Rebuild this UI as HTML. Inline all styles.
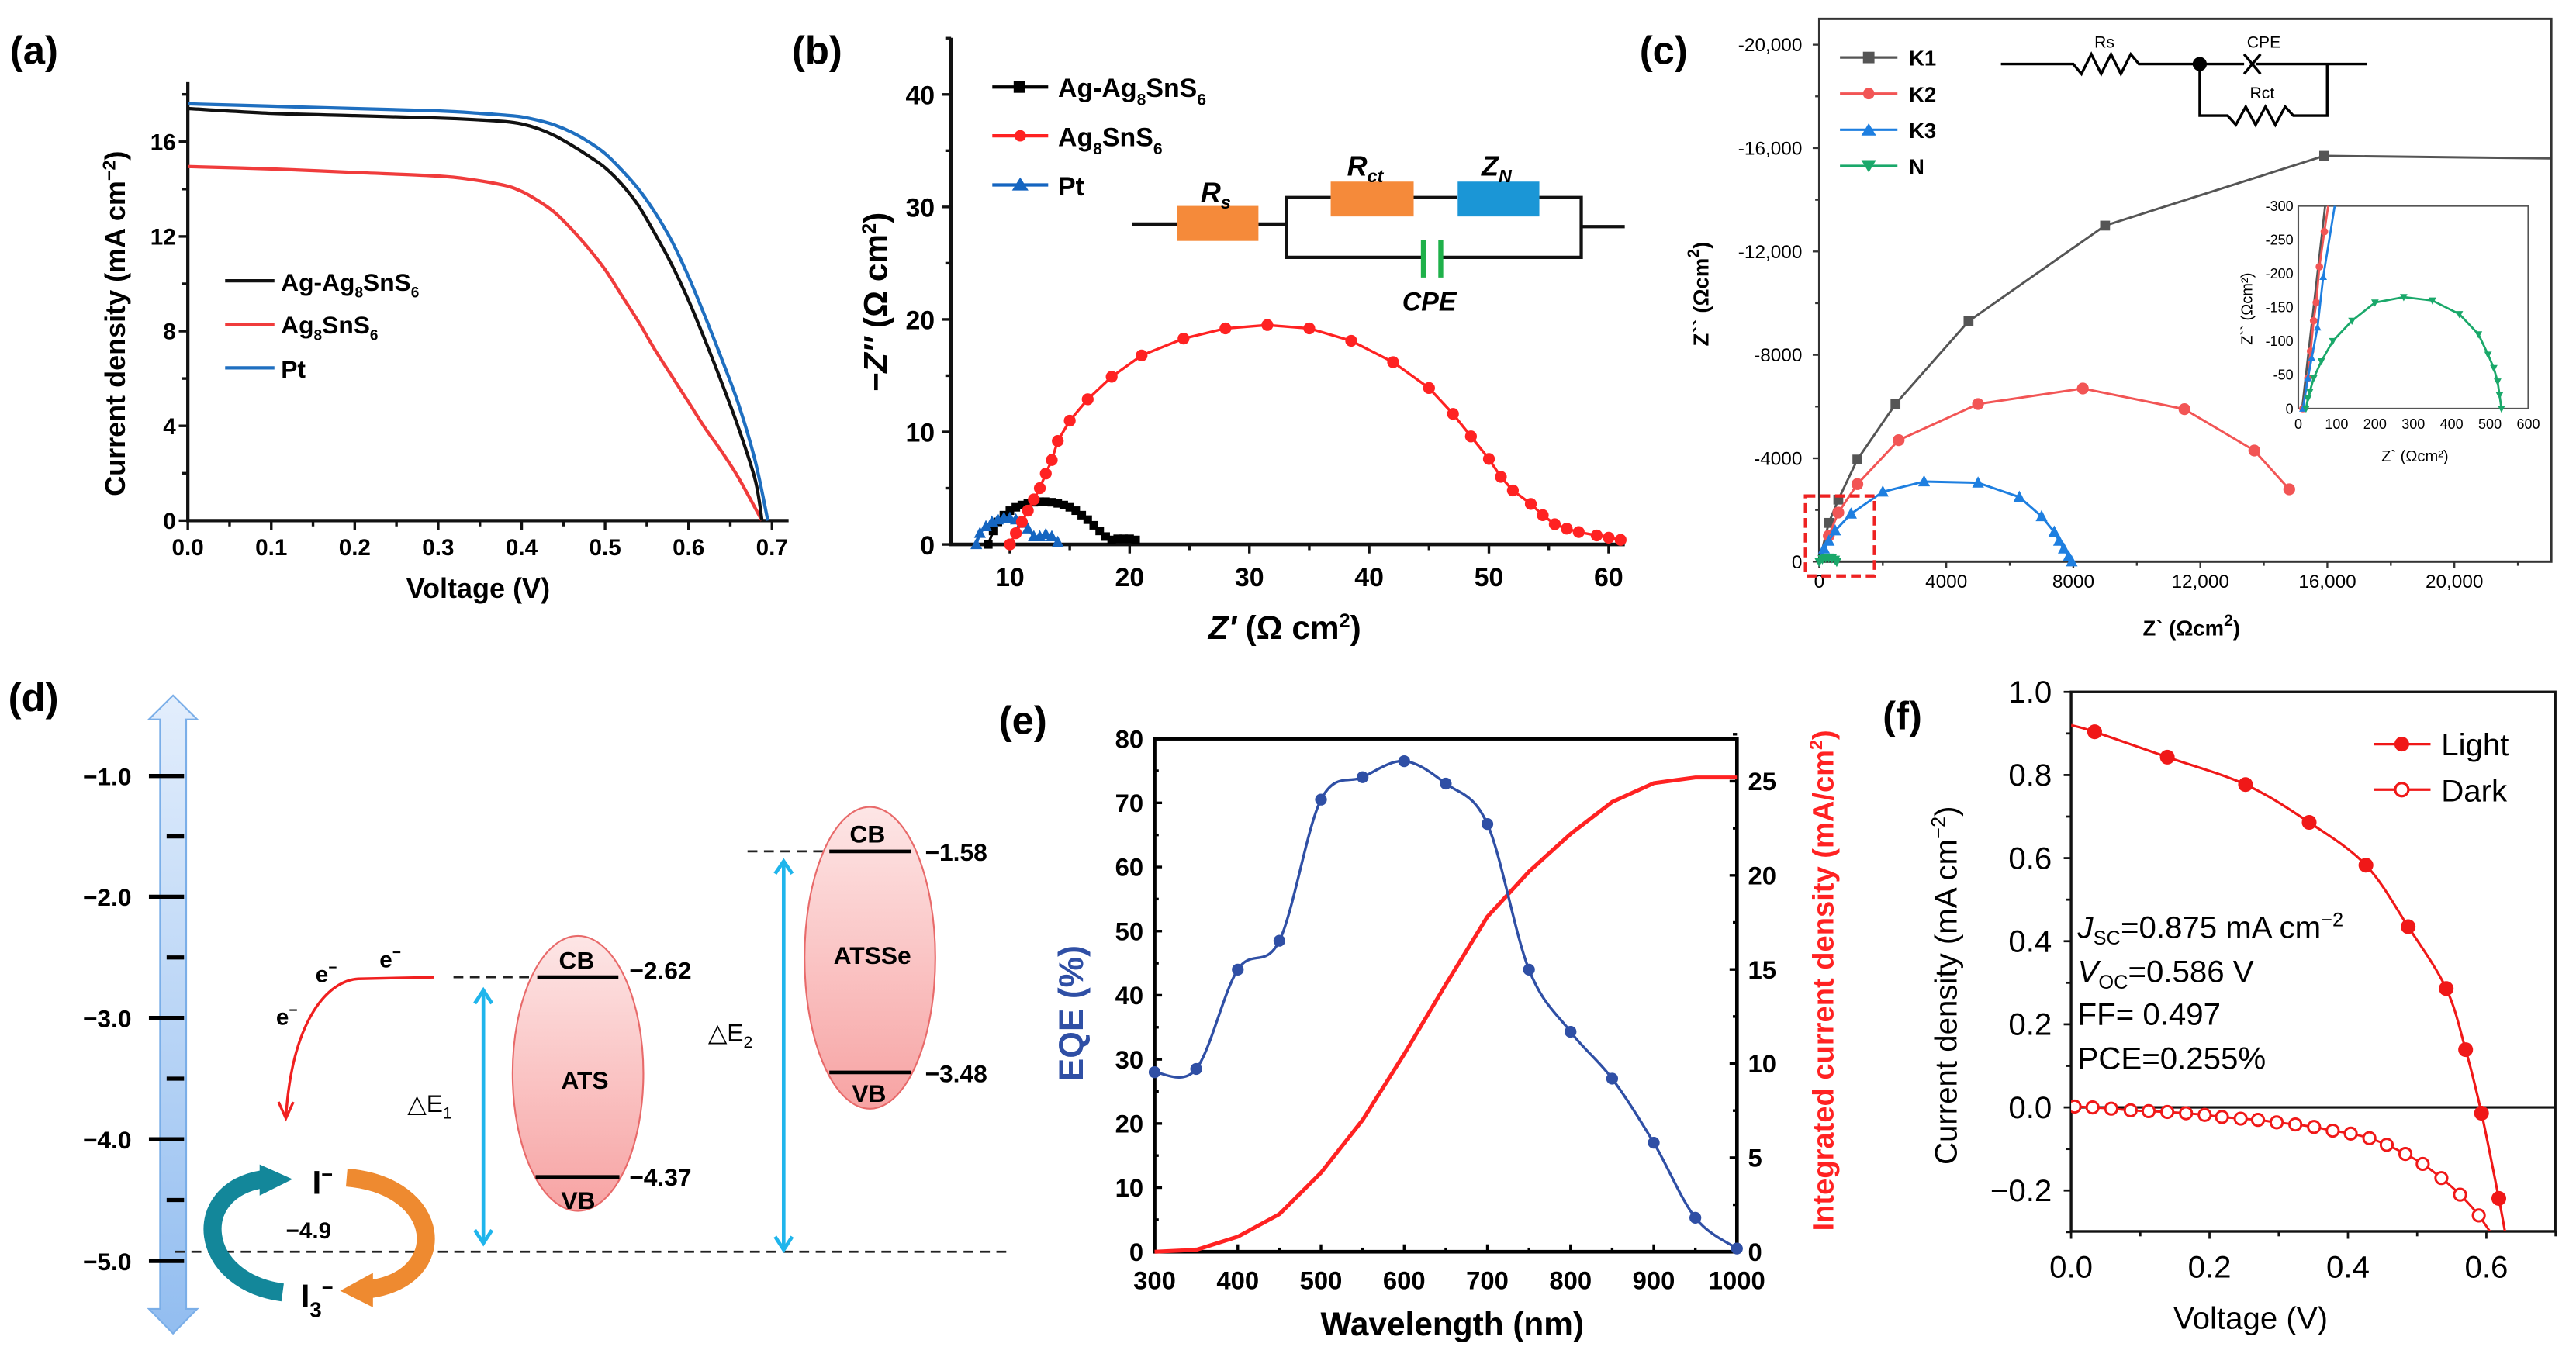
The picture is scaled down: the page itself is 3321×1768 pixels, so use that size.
<!DOCTYPE html>
<html><head><meta charset="utf-8"><title>Solar cell figure</title>
<style>
html,body{margin:0;padding:0;background:#fff;}
svg{display:block;font-family:"Liberation Sans",Arial,sans-serif;}
.b{font-weight:bold;}
</style></head>
<body>
<svg id="fig" xmlns="http://www.w3.org/2000/svg" width="3321" height="1768" viewBox="0 0 1568 834.8">
<defs>
<linearGradient id="gArrow" x1="0" y1="0" x2="0" y2="1"><stop offset="0" stop-color="#e3eefc"/><stop offset="1" stop-color="#92bdf0"/></linearGradient>
<linearGradient id="gEll" x1="0" y1="0" x2="0" y2="1"><stop offset="0" stop-color="#fde6e6"/><stop offset="1" stop-color="#f7a3a3"/></linearGradient>
</defs>
<rect x="0" y="0" width="1568" height="834.8" fill="#fff"/>

<text x="6" y="39" class="b" font-size="24">(a)</text>
<text x="482" y="39" class="b" font-size="24">(b)</text>
<text x="998" y="39" class="b" font-size="24">(c)</text>
<text x="5" y="433" class="b" font-size="24">(d)</text>
<text x="608" y="447" class="b" font-size="24">(e)</text>
<text x="1146" y="444" class="b" font-size="24">(f)</text>

<g id="pa"></g>
<g id="pb"></g>
<g id="pc"></g>
<g id="pe"></g>
<g id="pf"></g>

<text transform="translate(76,197) rotate(-90)" text-anchor="middle" class="b" font-size="17">Current density (mA cm<tspan dy="-6" font-size="11">−2</tspan><tspan dy="6">)</tspan></text>
<text x="291" y="364" text-anchor="middle" class="b" font-size="17">Voltage (V)</text>
<g>
<line x1="137" y1="171" x2="167" y2="171" stroke="#111" stroke-width="2"/>
<text x="171" y="177" class="b" font-size="15">Ag-Ag<tspan dy="4" font-size="9">8</tspan><tspan dy="-4">SnS</tspan><tspan dy="4" font-size="9">6</tspan></text>
<line x1="137" y1="197.6" x2="167" y2="197.6" stroke="#f03c3c" stroke-width="2"/>
<text x="171" y="203" class="b" font-size="15">Ag<tspan dy="4" font-size="9">8</tspan><tspan dy="-4">SnS</tspan><tspan dy="4" font-size="9">6</tspan></text>
<line x1="137" y1="224" x2="167" y2="224" stroke="#1f6fc0" stroke-width="2"/>
<text x="171" y="230" class="b" font-size="15">Pt</text>
</g>

<text transform="translate(540,184) rotate(-90)" text-anchor="middle" class="b" font-size="20"><tspan font-style="italic">−Z″</tspan> (Ω cm<tspan dy="-7" font-size="12">2</tspan><tspan dy="7">)</tspan></text>
<text x="782" y="389" text-anchor="middle" class="b" font-size="20"><tspan font-style="italic">Z′</tspan> (Ω cm<tspan dy="-7" font-size="12">2</tspan><tspan dy="7">)</tspan></text>
<g>
<line x1="604" y1="53" x2="638" y2="53" stroke="#000" stroke-width="2"/><rect x="617" y="49.5" width="7" height="7" fill="#000"/>
<text x="644" y="59" class="b" font-size="16">Ag-Ag<tspan dy="5" font-size="10">8</tspan><tspan dy="-5">SnS</tspan><tspan dy="5" font-size="10">6</tspan></text>
<line x1="604" y1="82.7" x2="638" y2="82.7" stroke="#f22" stroke-width="2"/><circle cx="621" cy="82.7" r="3.5" fill="#f22"/>
<text x="644" y="89" class="b" font-size="16">Ag<tspan dy="5" font-size="10">8</tspan><tspan dy="-5">SnS</tspan><tspan dy="5" font-size="10">6</tspan></text>
<line x1="604" y1="112.6" x2="638" y2="112.6" stroke="#1565c0" stroke-width="2"/><polygon points="621,108 626,116 616,116" fill="#1565c0"/>
<text x="644" y="119" class="b" font-size="16">Pt</text>
</g>
<g stroke="#111" stroke-width="2" fill="none">
<line x1="689" y1="136.4" x2="717" y2="136.4"/><line x1="766" y1="136.4" x2="783" y2="136.4"/>
<polyline points="810,120.3 783,120.3 783,156.7 866.4,156.7"/><polyline points="877,156.7 962.5,156.7 962.5,120.3 937,120.3"/>
<line x1="860" y1="120.3" x2="887" y2="120.3"/><line x1="962.5" y1="138" x2="989" y2="138"/>
<rect x="716.7" y="125.4" width="49.3" height="21.3" fill="#f58a3a" stroke="none"/>
<rect x="810" y="110.6" width="50.5" height="21.2" fill="#f58a3a" stroke="none"/>
<rect x="887.3" y="110.6" width="49.7" height="21.2" fill="#1b96d6" stroke="none"/>
<line x1="866.4" y1="146.4" x2="866.4" y2="169" stroke="#1fb14a" stroke-width="3"/><line x1="877" y1="146.4" x2="877" y2="169" stroke="#1fb14a" stroke-width="3"/>
</g>
<text x="740" y="123" text-anchor="middle" class="b" font-size="17" font-style="italic">R<tspan dy="4" font-size="11">s</tspan></text>
<text x="831" y="107" text-anchor="middle" class="b" font-size="17" font-style="italic">R<tspan dy="4" font-size="11">ct</tspan></text>
<text x="911" y="107" text-anchor="middle" class="b" font-size="17" font-style="italic">Z<tspan dy="4" font-size="11">N</tspan></text>
<text x="870" y="189" text-anchor="middle" class="b" font-size="16" font-style="italic">CPE</text>

<text transform="translate(1040,179) rotate(-90)" text-anchor="middle" class="b" font-size="13">Z`` (Ωcm<tspan dy="-6" font-size="10">2</tspan><tspan dy="6">)</tspan></text>
<text x="1334" y="387" text-anchor="middle" class="b" font-size="13">Z` (Ωcm<tspan dy="-6" font-size="10">2</tspan><tspan dy="6">)</tspan></text>
<g>
<line x1="1120" y1="35" x2="1155" y2="35" stroke="#555" stroke-width="1.5"/><rect x="1134" y="31.5" width="7" height="7" fill="#555"/>
<text x="1162" y="40" class="b" font-size="13">K1</text>
<line x1="1120" y1="57" x2="1155" y2="57" stroke="#f25555" stroke-width="1.5"/><circle cx="1137.5" cy="57" r="3.5" fill="#f25555"/>
<text x="1162" y="62" class="b" font-size="13">K2</text>
<line x1="1120" y1="79" x2="1155" y2="79" stroke="#1e7fe0" stroke-width="1.5"/><polygon points="1137.5,75 1142,82.5 1133,82.5" fill="#1e7fe0"/>
<text x="1162" y="84" class="b" font-size="13">K3</text>
<line x1="1120" y1="101" x2="1155" y2="101" stroke="#1aa86a" stroke-width="1.5"/><polygon points="1137.5,105 1142,97.5 1133,97.5" fill="#1aa86a"/>
<text x="1162" y="106" class="b" font-size="13">N</text>
</g>
<g stroke="#000" stroke-width="1.6" fill="none">
<polyline points="1218,39 1262,39 1267,45 1273,33 1279,45 1285,33 1291,45 1297,33 1302,39 1366,39"/>
<path d="M1366,33 L1371,39 L1366,45 M1376,33 L1371,39 L1376,45"/>
<line x1="1373" y1="39" x2="1441" y2="39"/>
<polyline points="1339,39 1339,70.4 1356,70.4 1361,76 1367,65 1373,76 1379,65 1385,76 1391,65 1396,70.4 1416.6,70.4 1416.6,39"/>
<circle cx="1339" cy="39" r="3.5" fill="#000"/>
</g>
<text x="1281" y="29" text-anchor="middle" font-size="10">Rs</text>
<text x="1378" y="29" text-anchor="middle" font-size="10">CPE</text>
<text x="1377" y="60" text-anchor="middle" font-size="10">Rct</text>

<g id="pd">
<polygon points="105.3,423.5 120,438 113.3,438 113.3,797 120,797 105.3,812 90.6,797 97.4,797 97.4,438 90.6,438" fill="url(#gArrow)" stroke="#7aaee8" stroke-width="1"/>
<g stroke="#000" stroke-width="2.5">
<line x1="90.6" y1="472.5" x2="112" y2="472.5"/><line x1="90.6" y1="546" x2="112" y2="546"/><line x1="90.6" y1="619.8" x2="112" y2="619.8"/><line x1="90.6" y1="693.7" x2="112" y2="693.7"/><line x1="90.6" y1="767.8" x2="112" y2="767.8"/>
<line x1="101.4" y1="509.3" x2="112" y2="509.3"/><line x1="101.4" y1="583" x2="112" y2="583"/><line x1="101.4" y1="656.8" x2="112" y2="656.8"/><line x1="101.4" y1="730.7" x2="112" y2="730.7"/>
</g>
<g class="b" font-size="15" text-anchor="end">
<text x="80" y="478">−1.0</text><text x="80" y="551.5">−2.0</text><text x="80" y="625.3">−3.0</text><text x="80" y="699.2">−4.0</text><text x="80" y="773.3">−5.0</text>
</g>
<line x1="106.5" y1="762.2" x2="616" y2="762.2" stroke="#222" stroke-width="1.3" stroke-dasharray="6,4"/>
<line x1="276" y1="595" x2="326" y2="595" stroke="#222" stroke-width="1.3" stroke-dasharray="6,4"/>
<line x1="455" y1="518.4" x2="505" y2="518.4" stroke="#222" stroke-width="1.3" stroke-dasharray="6,4"/>
<ellipse cx="351.8" cy="653.6" rx="39.8" ry="83.7" fill="url(#gEll)" stroke="#e86a6a" stroke-width="1"/>
<ellipse cx="529.5" cy="583.2" rx="39.8" ry="91.9" fill="url(#gEll)" stroke="#e86a6a" stroke-width="1"/>
<line x1="327" y1="595" x2="376.4" y2="595" stroke="#000" stroke-width="2.2"/>
<line x1="326" y1="716.6" x2="377" y2="716.6" stroke="#000" stroke-width="2.2"/>
<line x1="504.8" y1="518.4" x2="554.5" y2="518.4" stroke="#000" stroke-width="2.2"/>
<line x1="504.8" y1="653" x2="554.5" y2="653" stroke="#000" stroke-width="2.2"/>
<g class="b" font-size="15" text-anchor="middle">
<text x="351" y="590">CB</text><text x="356" y="663">ATS</text><text x="352" y="736">VB</text>
<text x="528" y="513">CB</text><text x="531" y="587">ATSSe</text><text x="529" y="671">VB</text>
</g>
<g class="b" font-size="15">
<text x="383" y="596">−2.62</text><text x="383" y="722">−4.37</text><text x="563" y="524">−1.58</text><text x="563" y="659">−3.48</text>
</g>
<g stroke="#1fb5ec" stroke-width="2.2" fill="none">
<line x1="294.2" y1="605" x2="294.2" y2="755"/><polyline points="289,611 294.2,603 299.4,611"/><polyline points="289,749 294.2,757 299.4,749"/>
<line x1="477" y1="526" x2="477" y2="759"/><polyline points="471.8,532 477,524.4 482.2,532"/><polyline points="471.8,753 477,761 482.2,753"/>
</g>
<text x="248" y="677" font-size="15">△E<tspan dy="4" font-size="10">1</tspan></text>
<text x="431" y="634" font-size="15">△E<tspan dy="4" font-size="10">2</tspan></text>
<path d="M264.3,595 L218,596 C200,597 178,620 174,680" stroke="#f02020" stroke-width="1.6" fill="none"/>
<polyline points="169.5,671 174,681 178.5,671" stroke="#f02020" stroke-width="1.6" fill="none"/>
<g class="b" font-size="14">
<text x="231" y="589">e<tspan dy="-6" font-size="9">−</tspan></text>
<text x="192" y="598">e<tspan dy="-6" font-size="9">−</tspan></text>
<text x="168" y="624">e<tspan dy="-6" font-size="9">−</tspan></text>
</g>
<path d="M172,787 C120,780 115,725 160,718" stroke="#13879a" stroke-width="11" fill="none"/>
<polygon points="158,709 178,718 158,728" fill="#13879a"/>
<path d="M211,717 C270,722 275,778 225,785" stroke="#ee8a30" stroke-width="11" fill="none"/>
<polygon points="227,775 207,786 227,796" fill="#ee8a30"/>
<text x="190" y="727" class="b" font-size="20">I<tspan dy="-8" font-size="12">−</tspan></text>
<text x="183" y="796" class="b" font-size="20">I<tspan dy="6" font-size="13">3</tspan><tspan dy="-14" font-size="12">−</tspan></text>
<text x="174" y="754" class="b" font-size="14">−4.9</text>
</g>

<text transform="translate(659,617) rotate(-90)" text-anchor="middle" class="b" font-size="21" fill="#2f4fa5">EQE (%)</text>
<text transform="translate(1116,597) rotate(-90)" text-anchor="middle" class="b" font-size="18" fill="#f22">Integrated current density (mA/cm<tspan dy="-7" font-size="11">2</tspan><tspan dy="7">)</tspan></text>
<text x="884" y="813" text-anchor="middle" class="b" font-size="20">Wavelength (nm)</text>

<text transform="translate(1191,600) rotate(-90)" text-anchor="middle" font-size="19">Current density (mA cm<tspan dy="-7" font-size="12">−2</tspan><tspan dy="7">)</tspan></text>
<text x="1370" y="809" text-anchor="middle" font-size="19">Voltage (V)</text>
<g>
<line x1="1444.9" y1="453.1" x2="1479.5" y2="453.1" stroke="#f01818" stroke-width="1.5"/><circle cx="1462" cy="453.1" r="4.5" fill="#f01818"/>
<text x="1486" y="460" font-size="19">Light</text>
<line x1="1444.9" y1="480.8" x2="1479.5" y2="480.8" stroke="#f01818" stroke-width="1.5"/><circle cx="1462" cy="480.8" r="4" fill="#fff" stroke="#f01818" stroke-width="1.5"/>
<text x="1486" y="488" font-size="19">Dark</text>
</g>
<g font-size="19">
<text x="1264.7" y="571"><tspan font-style="italic">J</tspan><tspan dy="4" font-size="12">SC</tspan><tspan dy="-4">=0.875 mA cm</tspan><tspan dy="-7" font-size="12">−2</tspan></text>
<text x="1264.7" y="598"><tspan font-style="italic">V</tspan><tspan dy="4" font-size="12">OC</tspan><tspan dy="-4">=0.586 V</tspan></text>
<text x="1264.7" y="624">FF= 0.497</text>
<text x="1264.7" y="651">PCE=0.255%</text>
</g>
</svg>

<script>
// Panel a
const aBlackV = [0,0.1,0.2,0.3,0.35,0.38,0.4,0.42,0.44,0.46,0.48,0.5,0.52,0.54,0.56,0.58,0.6,0.62,0.64,0.66,0.68,0.688];
const aBlackJ = [17.4,17.2,17.1,17.0,16.92,16.85,16.75,16.55,16.25,15.85,15.4,14.9,14.2,13.3,12.1,10.8,9.3,7.6,5.8,3.9,1.7,0];
const aRedV = [0,0.1,0.2,0.3,0.34,0.38,0.4,0.42,0.44,0.46,0.48,0.5,0.52,0.54,0.56,0.58,0.6,0.62,0.64,0.66,0.688];
const aRedJ = [14.95,14.85,14.7,14.55,14.4,14.15,13.9,13.5,13.0,12.3,11.5,10.6,9.5,8.4,7.2,6.1,5.0,3.9,2.9,1.8,0];
const aBlueV = [0,0.1,0.2,0.3,0.35,0.38,0.4,0.42,0.44,0.46,0.48,0.5,0.52,0.54,0.56,0.58,0.6,0.62,0.64,0.66,0.68,0.695];
const aBlueJ = [17.6,17.5,17.4,17.3,17.2,17.12,17.05,16.9,16.7,16.4,16.0,15.5,14.8,14.0,13.0,11.8,10.3,8.6,6.8,4.9,2.5,0];
const aXTicks = ["0.0","0.1","0.2","0.3","0.4","0.5","0.6","0.7"];
const aYTicks = ["0","4","8","12","16"];
// Panel b
const bRedZ = [10,10.5,11,11.5,12,12.5,13,13.5,14,15,16.5,18.5,21,24.5,28,31.5,35,38.5,42,45,47,48.5,50,51,52,53.5,54.5,55.5,56.5,57.5,59,60,61];
const bRedZi = [0,1,2,3,4,5,6.3,7.5,9.2,11,12.9,14.9,16.8,18.3,19.2,19.5,19.2,18.1,16.2,13.9,11.6,9.6,7.6,6,4.8,3.6,2.6,1.8,1.4,1.1,0.8,0.6,0.4];
const bBlackZ = [8.2,8.6,9,9.5,10,10.5,11,11.5,12,12.5,13,13.5,14,14.5,15,15.5,16,16.5,17,17.5,18,18.5,19,19.5,20,20.5];
const bBlackZi = [0,1.2,2,2.6,3,3.3,3.5,3.65,3.75,3.8,3.8,3.75,3.65,3.5,3.3,3,2.6,2.2,1.7,1.2,0.7,0.4,0.5,0.5,0.5,0.4];
const bBlueZ = [7.2,7.5,8,8.5,9,9.5,10,10.5,11,11.5,12,12.5,13,13.5,14];
const bBlueZi = [0,1,1.6,2,2.2,2.35,2.35,2.2,1.9,1.4,0.7,0.7,0.9,0.7,0.2];
const bXTicks = ["10","20","30","40","50","60"];
const bYTicks = ["0","10","20","30","40"];
// Panel c
const cK1Z = [0,300,600,1200,2400,4700,9000,15900,23000];
const cK1Zi = [0,-1500,-2400,-3950,-6100,-9300,-13000,-15700,-15600];
const cK2Z = [0,300,600,1200,2500,5000,8300,11500,13700,14800];
const cK2Zi = [0,-1000,-1900,-3000,-4700,-6100,-6700,-5900,-4300,-2800];
const cK3Z = [0,150,300,500,1000,2000,3300,5000,6300,7000,7400,7550,7700,7850,7950];
const cK3Zi = [0,-500,-800,-1200,-1850,-2700,-3100,-3050,-2500,-1750,-1150,-800,-500,-200,0];
const cNZ = [0,100,200,300,400,500,550];
const cNZi = [0,-100,-150,-160,-140,-80,0];
const cXTickVals = [0,4000,8000,12000,16000,20000];
const cXTicks = ["0","4000","8000","12,000","16,000","20,000"];
const cYTickVals = [0,-4000,-8000,-12000,-16000,-20000];
const cYTicks = ["0","-4000","-8000","-12,000","-16,000","-20,000"];
const ciNZ = [20,25,30,40,60,90,140,200,275,350,420,470,495,510,520,525,530];
const ciNZi = [0,-15,-25,-45,-70,-100,-130,-157,-165,-160,-140,-110,-80,-60,-40,-20,0];
const ciK2Z = [12,25,32,40,47,55,68,78];
const ciK2Zi = [0,-45,-85,-130,-157,-210,-262,-300];
const ciK3Z = [12,25,35,50,65,95];
const ciK3Zi = [0,-45,-75,-120,-195,-300];
const ciK1Z = [10,70];
const ciK1Zi = [0,-300];
const ciXTicks = ["0","100","200","300","400","500","600"];
const ciYTicks = ["0","-50","-100","-150","-200","-250","-300"];
// Panel e
const eWl = [300,350,400,450,500,550,600,650,700,750,800,850,900,950,1000];
const eEQE = [28,28.5,44,48.5,70.5,74,76.5,73,66.7,44,34.3,27,17,5.3,0.5];
const eJint = [0,0.1,0.8,2,4.2,7,10.5,14.2,17.8,20.2,22.2,23.9,24.9,25.2,25.2];
const eXTicks = ["300","400","500","600","700","800","900","1000"];
const eYTicks = ["0","10","20","30","40","50","60","70","80"];
const eRTicks = ["0","5","10","15","20","25"];
// Panel f
const fLightV = [0.034,0.139,0.252,0.344,0.426,0.487,0.542,0.570,0.593,0.618];
const fLightJ = [0.904,0.843,0.777,0.686,0.583,0.435,0.286,0.139,-0.014,-0.219];
const fLightFitV = [0,0.034,0.139,0.252,0.344,0.426,0.487,0.542,0.570,0.593,0.618,0.627];
const fLightFitJ = [0.92,0.904,0.843,0.777,0.686,0.583,0.435,0.286,0.139,-0.014,-0.219,-0.3];
const fDarkV = [0.005,0.031,0.058,0.086,0.112,0.139,0.166,0.193,0.218,0.245,0.27,0.297,0.324,0.351,0.378,0.404,0.431,0.456,0.483,0.508,0.535,0.562,0.589];
const fDarkJ = [0.002,0,-0.003,-0.007,-0.009,-0.011,-0.014,-0.018,-0.023,-0.027,-0.03,-0.036,-0.041,-0.047,-0.056,-0.063,-0.074,-0.09,-0.112,-0.136,-0.17,-0.21,-0.26];
const fXTicks = ["0.0","0.2","0.4","0.6"];
const fYTicks = ["−0.2","0.0","0.2","0.4","0.6","0.8","1.0"];

const NS = "http://www.w3.org/2000/svg";
function el(tag, attrs, parent){
  const e = document.createElementNS(NS, tag);
  for (const k in attrs) e.setAttribute(k, attrs[k]);
  parent.appendChild(e);
  return e;
}
function smooth(pts){
  let d = "M" + pts[0][0].toFixed(2) + "," + pts[0][1].toFixed(2);
  for (let i = 0; i < pts.length - 1; i++){
    const p0 = pts[i-1] || pts[i], p1 = pts[i], p2 = pts[i+1], p3 = pts[i+2] || pts[i+1];
    const c1x = p1[0] + (p2[0]-p0[0])/6, c1y = p1[1] + (p2[1]-p0[1])/6;
    const c2x = p2[0] - (p3[0]-p1[0])/6, c2y = p2[1] - (p3[1]-p1[1])/6;
    d += " C" + c1x.toFixed(2)+","+c1y.toFixed(2)+" "+c2x.toFixed(2)+","+c2y.toFixed(2)+" "+p2[0].toFixed(2)+","+p2[1].toFixed(2);
  }
  return d;
}
function poly(pts){ return pts.map(p=>p[0].toFixed(2)+","+p[1].toFixed(2)).join(" "); }
function zip(xs, ys, fx, fy){ return xs.map((x,i)=>[fx(x), fy(ys[i])]); }
function marker(shape, x, y, s, fill, stroke, parent){
  if (shape === "circle") return el("circle", {cx:x, cy:y, r:s, fill:fill, stroke:stroke||"none", "stroke-width":1.3}, parent);
  if (shape === "square") return el("rect", {x:x-s, y:y-s, width:2*s, height:2*s, fill:fill}, parent);
  if (shape === "tri") return el("polygon", {points:(x)+","+(y-s*1.1)+" "+(x+s)+","+(y+s*0.8)+" "+(x-s)+","+(y+s*0.8), fill:fill}, parent);
  return el("polygon", {points:(x)+","+(y+s*1.1)+" "+(x+s)+","+(y-s*0.8)+" "+(x-s)+","+(y-s*0.8), fill:fill}, parent);
}

// Panel a
const pa = document.getElementById("pa");
const xa = v => 114.3 + v*508;
const ya = j => 317 - j*14.42;
{
  const ax = el("path", {d:"M114.3,50 L114.3,317 L480,317", stroke:"#111", "stroke-width":2, fill:"none"}, pa);
  
  
  for (let k = 0; k <= 14; k++){
    const x = xa(k*0.05);
    const t = el("line", {x1:x, y1:317, x2:x, y2:317+(k%2?3.5:5.5), stroke:"#111", "stroke-width":1.6}, pa);
    
    
  }
  aXTicks.forEach(lab=>{
    const t = el("text", {x:xa(parseFloat(lab)), y:338, "text-anchor":"middle", "font-size":14, "font-weight":"bold"}, pa);
    t.textContent = lab;
    
    
  });
  for (let k = 0; k <= 9; k++){
    const y = ya(k*2);
    const t = el("line", {x1:114.3-(k%2?3.5:5.5), y1:y, x2:114.3, y2:y, stroke:"#111", "stroke-width":1.6}, pa);
    
    
  }
  aYTicks.forEach(lab=>{
    const t = el("text", {x:107, y:ya(parseFloat(lab))+5, "text-anchor":"end", "font-size":14, "font-weight":"bold"}, pa);
    t.textContent = lab;
    
    
  });
  const s1 = el("path", {d:smooth(zip(aRedV,aRedJ,xa,ya)), stroke:"#f03c3c", "stroke-width":2, fill:"none"}, pa);
  
  
  const s2 = el("path", {d:smooth(zip(aBlackV,aBlackJ,xa,ya)), stroke:"#111", "stroke-width":2, fill:"none"}, pa);
  
  
  const s3 = el("path", {d:smooth(zip(aBlueV,aBlueJ,xa,ya)), stroke:"#1f6fc0", "stroke-width":2, fill:"none"}, pa);
  
  
}

// Panel b
const pb = document.getElementById("pb");
const xb = z => 541.8 + z*7.29;
const yb = v => 331.5 - v*6.85;
{
  const ax = el("path", {d:"M578.9,23 L578.9,331.5 L989,331.5", stroke:"#111", "stroke-width":2.2, fill:"none"}, pb);
  
  
  for (let z = 10; z <= 60; z += 5){
    const t = el("line", {x1:xb(z), y1:331.5, x2:xb(z), y2:331.5+(z%10?3.5:5.5), stroke:"#111", "stroke-width":1.6}, pb);
    
    
  }
  bXTicks.forEach(lab=>{
    const t = el("text", {x:xb(parseFloat(lab)), y:357, "text-anchor":"middle", "font-size":16, "font-weight":"bold"}, pb);
    t.textContent = lab;
    
    
  });
  for (let v = 0; v <= 45; v += 5){
    const t = el("line", {x1:578.9-(v%10?3.5:5.5), y1:yb(v), x2:578.9, y2:yb(v), stroke:"#111", "stroke-width":1.6}, pb);
    
    
  }
  bYTicks.forEach(lab=>{
    const t = el("text", {x:569, y:yb(parseFloat(lab))+6, "text-anchor":"end", "font-size":16, "font-weight":"bold"}, pb);
    t.textContent = lab;
    
    
  });
  const series = [
    [bBlackZ,bBlackZi,"#000","square",2.6,'b-series-ag-ag8sns6'],
    [bBlueZ,bBlueZi,"#1565c0","tri",3.6,'b-series-pt'],
    [bRedZ,bRedZi,"#f22","circle",3.6,'b-series-ag8sns6']
  ];
  series.forEach(s=>{
    const g = el("g", {}, pb);
    
    
    el("polyline", {points:poly(zip(s[0],s[1],xb,yb)), stroke:s[2], "stroke-width":1.6, fill:"none"}, g);
    s[0].forEach((z,i)=>{
      const m = marker(s[3], xb(z), yb(s[1][i]), s[4], s[2], null, g);
      
      
    });
  });
}

// Panel c
const pc = document.getElementById("pc");
const xc = z => 1107.4 + z*0.01933;
const yc = v => 342 + v*0.01574;
{
  const box = el("rect", {x:1107.4, y:11.5, width:445.6, height:330.5, fill:"none", stroke:"#333", "stroke-width":1.4}, pc);
  
  
  for (let z = 0; z <= 22000; z += 2000){
    const t = el("line", {x1:xc(z), y1:342, x2:xc(z), y2:342+(z%4000?2.5:4), stroke:"#333", "stroke-width":1.1}, pc);
    
    
  }
  cXTickVals.forEach((v,i)=>{
    const t = el("text", {x:xc(v), y:358, "text-anchor":"middle", "font-size":11.5}, pc);
    t.textContent = cXTicks[i];
    
    
  });
  for (let v = 0; v >= -20000; v -= 2000){
    const t = el("line", {x1:1107.4-(v%4000?2.5:4), y1:yc(v), x2:1107.4, y2:yc(v), stroke:"#333", "stroke-width":1.1}, pc);
    
    
  }
  cYTickVals.forEach((v,i)=>{
    const t = el("text", {x:1097, y:yc(v)+4, "text-anchor":"end", "font-size":11.5}, pc);
    t.textContent = cYTicks[i];
    
    
  });
  const series = [
    [cK1Z,cK1Zi,"#555","square",3,'c-series-k1',1,7],
    [cK2Z,cK2Zi,"#f25555","circle",3.6,'c-series-k2',1,9],
    [cK3Z,cK3Zi,"#1e7fe0","tri",3.6,'c-series-k3',1,14],
    [cNZ,cNZi,"#1aa86a","itri",3,'c-series-n',0,6]
  ];
  series.forEach(s=>{
    const g = el("g", {}, pc);
    
    
    el("polyline", {points:poly(zip(s[0],s[1],xc,yc)), stroke:s[2], "stroke-width":1.4, fill:"none"}, g);
    s[0].forEach((z,i)=>{
      if (i < s[6] || i > s[7]) return;
      const m = marker(s[3], xc(z), yc(s[1][i]), s[4], s[2], null, g);
      
      
    });
  });
  const zoomBox = el("rect", {x:1099, y:302, width:42, height:48.7, fill:"none", stroke:"#ee2222", "stroke-width":2, "stroke-dasharray":"6,3"}, pc);
  
  

  const xi = z => 1399 + z*(140/600);
  const yi = v => 248.8 + v*(123.4/300);
  const ig = el("g", {}, pc);
  
  
  el("rect", {x:1399, y:125.4, width:140, height:123.4, fill:"#fff", stroke:"#555", "stroke-width":1}, ig);
  ciXTicks.forEach(lab=>{
    const t = el("text", {x:xi(parseFloat(lab)), y:261, "text-anchor":"middle", "font-size":8.5}, ig);
    t.textContent = lab;
    
    
  });
  ciYTicks.forEach(lab=>{
    const t = el("text", {x:1396, y:yi(parseFloat(lab))+3, "text-anchor":"end", "font-size":8.5}, ig);
    t.textContent = lab;
    
    
  });
  const ix = el("text", {x:1470, y:281, "text-anchor":"middle", "font-size":9.5}, ig);
  ix.textContent = "Z` (Ωcm²)";
  
  
  const iy = el("text", {transform:"translate(1371,188) rotate(-90)", "text-anchor":"middle", "font-size":9.5}, ig);
  iy.textContent = "Z`` (Ωcm²)";
  
  
  const iseries = [
    [ciK1Z,ciK1Zi,"#555",null,'c-inset-k1'],
    [ciK2Z,ciK2Zi,"#f25555","circle",'c-inset-k2'],
    [ciK3Z,ciK3Zi,"#1e7fe0","tri",'c-inset-k3'],
    [ciNZ,ciNZi,"#1aa86a","itri",'c-inset-n']
  ];
  iseries.forEach(s=>{
    const g = el("g", {}, ig);
    
    
    el("polyline", {points:poly(zip(s[0],s[1],xi,yi)), stroke:s[2], "stroke-width":1.3, fill:"none"}, g);
    if (!s[3]) return;
    s[0].forEach((z,i)=>{
      if (s[1][i] < -295) return;
      const m = marker(s[3], xi(z), yi(s[1][i]), 2.3, s[2], null, g);
      
      
    });
  });
}

// Panel e
const pe = document.getElementById("pe");
const xe = w => 702.8 + (w-300)*0.5064;
const yeL = e => 762.2 - e*3.905;
const yeR = j => 762.2 - j*11.46;
{
  const box = el("rect", {x:702.8, y:449.8, width:354.5, height:312.4, fill:"none", stroke:"#000", "stroke-width":2.2}, pe);
  
  
  for (let w = 300; w <= 1000; w += 50){
    const t = el("line", {x1:xe(w), y1:762.2, x2:xe(w), y2:762.2-(w%100?2.5:4.5), stroke:"#000", "stroke-width":1.6}, pe);
    
    
  }
  eXTicks.forEach(lab=>{
    const t = el("text", {x:xe(parseFloat(lab)), y:785, "text-anchor":"middle", "font-size":15.5, "font-weight":"bold"}, pe);
    t.textContent = lab;
    
    
  });
  for (let e = 0; e <= 80; e += 5){
    const t = el("line", {x1:702.8, y1:yeL(e), x2:702.8+(e%10?2.5:4.5), y2:yeL(e), stroke:"#000", "stroke-width":1.6}, pe);
    
    
  }
  eYTicks.forEach(lab=>{
    const t = el("text", {x:696, y:yeL(parseFloat(lab))+5.5, "text-anchor":"end", "font-size":15.5, "font-weight":"bold"}, pe);
    t.textContent = lab;
    
    
  });
  for (let j = 0; j <= 27.5; j += 2.5){
    const t = el("line", {x1:1057.3-((j%5)?2.5:4.5), y1:yeR(j), x2:1057.3, y2:yeR(j), stroke:"#000", "stroke-width":1.6}, pe);
    
    
  }
  eRTicks.forEach(lab=>{
    const t = el("text", {x:1064, y:yeR(parseFloat(lab))+5.5, "text-anchor":"start", "font-size":15.5, "font-weight":"bold"}, pe);
    t.textContent = lab;
    
    
  });
  const red = el("polyline", {points:poly(zip(eWl,eJint,xe,yeR)), stroke:"#f22", "stroke-width":2.4, fill:"none"}, pe);
  
  
  const g = el("g", {}, pe);
  
  
  el("path", {d:smooth(zip(eWl,eEQE,xe,yeL)), stroke:"#2f4fa5", "stroke-width":1.6, fill:"none"}, g);
  eWl.forEach((w,i)=>{
    const m = el("circle", {cx:xe(w), cy:yeL(eEQE[i]), r:3.6, fill:"#2f4fa5"}, g);
    
    
  });
}

// Panel f
const pf = document.getElementById("pf");
const xf = v => 1260.7 + v*421.3;
const yf = j => 674.3 - j*253;
{
  const box = el("rect", {x:1260.7, y:421.3, width:294.7, height:328.5, fill:"none", stroke:"#111", "stroke-width":1.6}, pf);
  
  
  const zl = el("line", {x1:1260.7, y1:yf(0), x2:1555.4, y2:yf(0), stroke:"#111", "stroke-width":1.5}, pf);
  
  
  for (let k = 0; k <= 7; k++){
    const x = xf(k*0.1);
    const t = el("line", {x1:x, y1:749.8, x2:x, y2:749.8+(k%2?3:4.5), stroke:"#111", "stroke-width":1.3}, pf);
    
    
  }
  fXTicks.forEach(lab=>{
    const t = el("text", {x:xf(parseFloat(lab)), y:778, "text-anchor":"middle", "font-size":19}, pf);
    t.textContent = lab;
    
    
  });
  for (let k = -3; k <= 10; k++){
    const y = yf(k*0.1);
    const t = el("line", {x1:1260.7-(k%2?3:4.5), y1:y, x2:1260.7, y2:y, stroke:"#111", "stroke-width":1.3}, pf);
    
    
  }
  fYTicks.forEach(lab=>{
    const t = el("text", {x:1249, y:yf(parseFloat(lab.replace("−","-")))+6.5, "text-anchor":"end", "font-size":19}, pf);
    t.textContent = lab;
    
    
  });
  const clip = el("clipPath", {id:"fclip"}, pf);
  el("rect", {x:1260.7, y:421.3, width:294.7, height:328.5}, clip);
  const lg = el("g", {"clip-path":"url(#fclip)"}, pf);
  
  
  el("path", {d:smooth(zip(fLightFitV,fLightFitJ,xf,yf)), stroke:"#f01818", "stroke-width":1.5, fill:"none"}, lg);
  fLightV.forEach((v,i)=>{
    const m = el("circle", {cx:xf(v), cy:yf(fLightJ[i]), r:4.5, fill:"#f01818"}, lg);
    
    
  });
  const dg = el("g", {"clip-path":"url(#fclip)"}, pf);
  
  
  const dpts = zip(fDarkV,fDarkJ,xf,yf);
  const last = dpts[dpts.length-1], prev = dpts[dpts.length-2];
  dpts.push([last[0] + (last[0]-prev[0])*1.2, last[1] + (last[1]-prev[1])*1.6]);
  el("path", {d:smooth(dpts), stroke:"#f01818", "stroke-width":1.4, fill:"none"}, dg);
  fDarkV.forEach((v,i)=>{
    const m = el("circle", {cx:xf(v), cy:yf(fDarkJ[i]), r:3.6, fill:"#fff", stroke:"#f01818", "stroke-width":1.4}, dg);
    
    
  });
}
</script>
</body></html>
